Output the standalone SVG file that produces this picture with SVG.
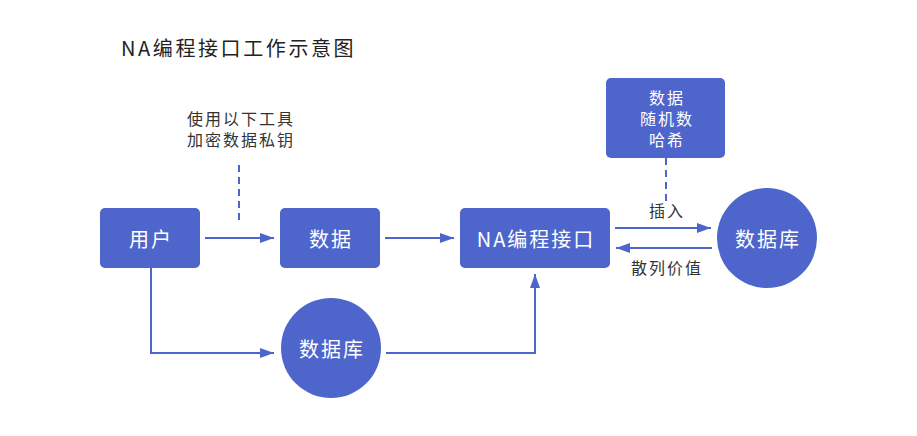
<svg xmlns="http://www.w3.org/2000/svg" width="917" height="436" viewBox="0 0 917 436">
<style>
text{font-family:"Noto Sans CJK SC","Noto Sans",sans-serif;text-anchor:middle;dominant-baseline:central}
.n{fill:#4e66cc}
.w{fill:#fff;font-size:20px;letter-spacing:2px}
.ws{fill:#fff;font-size:16px;letter-spacing:2px}
.d{fill:#333;font-size:16px;letter-spacing:2px}
.l{stroke:#4e66cc;stroke-width:2;fill:none}
.da{stroke-dasharray:7,5}
</style>
<defs>
<marker id="ah" viewBox="0 0 14 10" refX="14" refY="5" markerWidth="14" markerHeight="10" markerUnits="userSpaceOnUse" orient="auto"><path d="M0,0L14,5L0,10z" fill="#4e66cc"/></marker>
</defs>
<rect width="917" height="436" fill="#fff"/>
<text x="121" y="47" style="text-anchor:start;font-size:20px;letter-spacing:2.6px;fill:#222">NA编程接口工作示意图</text>
<text class="d" x="241" y="118">使用以下工具</text>
<text class="d" x="241" y="139">加密数据私钥</text>
<g id="connectors">
<path class="l da" d="M239,165V223"/>
<path class="l" d="M205,238H274" marker-end="url(#ah)"/>
<path class="l" d="M385,238H454" marker-end="url(#ah)"/>
<path class="l da" d="M666,158V201"/>
<path class="l" d="M615,228H711" marker-end="url(#ah)"/>
<path class="l" d="M712,248H616" marker-end="url(#ah)"/>
<path class="l" d="M151,268V353H274" marker-end="url(#ah)"/>
<path class="l" d="M386,353H535V274" marker-end="url(#ah)"/>
<text class="d" x="667" y="210">插入</text>
<text class="d" x="667" y="267">散列价值</text>
</g>
<g id="user"><rect class="n" x="100" y="208" width="100" height="60" rx="5"/><text class="w" x="151" y="238">用户</text></g>
<g id="data"><rect class="n" x="280" y="208" width="100" height="60" rx="5"/><text class="w" x="331" y="238">数据</text></g>
<g id="api"><rect class="n" x="460" y="208" width="150" height="60" rx="5"/><text class="w" x="536" y="238">NA编程接口</text></g>
<g id="info"><rect class="n" x="606" y="78" width="119" height="80" rx="5"/><text class="ws" x="667" y="97">数据</text><text class="ws" x="667" y="118">随机数</text><text class="ws" x="667" y="139">哈希</text></g>
<g id="db1"><circle class="n" cx="767" cy="238" r="50"/><text class="w" x="768" y="238">数据库</text></g>
<g id="db2"><circle class="n" cx="331" cy="348" r="50"/><text class="w" x="332" y="348">数据库</text></g>
</svg>
